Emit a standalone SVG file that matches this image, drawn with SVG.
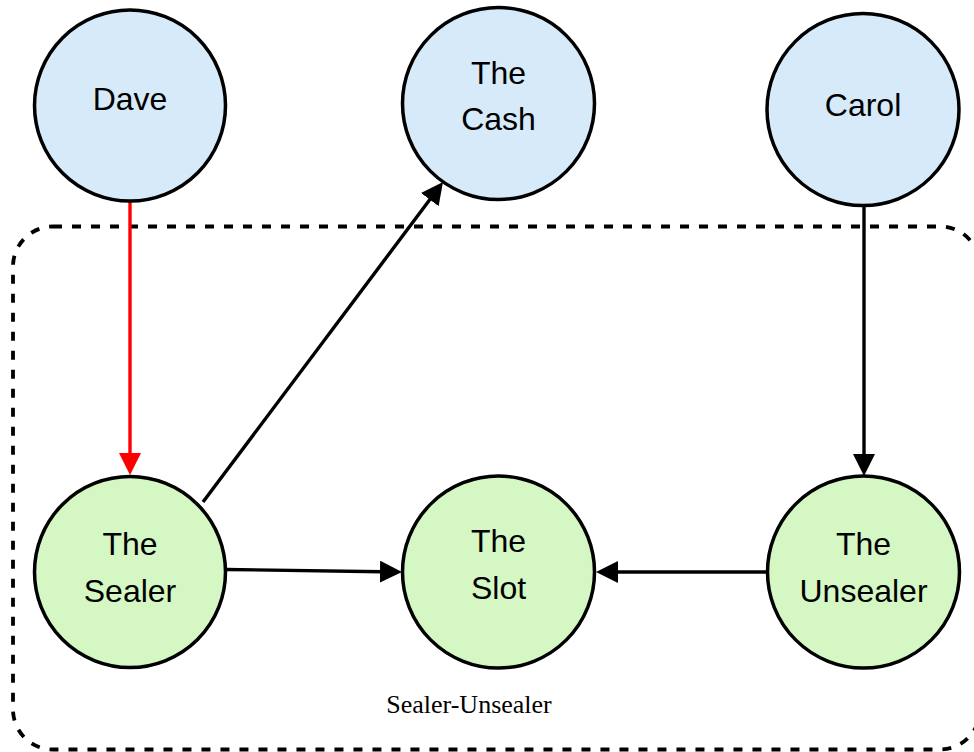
<svg xmlns="http://www.w3.org/2000/svg" width="974" height="752" viewBox="0 0 974 752">
<style>
.top{fill:#d6eaf9;stroke:#000;stroke-width:3.5}
.bot{fill:#d4f7c4;stroke:#000;stroke-width:3.5}
.lbl{font-family:"Liberation Sans",Arial,sans-serif;font-size:32px;fill:#000;text-anchor:middle}
.edge{fill:none;stroke:#000;stroke-width:3.4}
</style>
<defs>
<marker id="ah" markerUnits="userSpaceOnUse" markerWidth="22" markerHeight="22" refX="2" refY="11" orient="auto">
<path d="M0,0 L22,11 L0,22 Z" fill="#000"/>
</marker>
<marker id="ahr" markerUnits="userSpaceOnUse" markerWidth="22" markerHeight="22" refX="2" refY="11" orient="auto">
<path d="M0,0 L22,11 L0,22 Z" fill="#ff0000"/>
</marker>
</defs>
<rect id="group" x="13" y="226.5" width="967" height="523" rx="40" ry="40" fill="none" stroke="#000" stroke-width="3.8" stroke-dasharray="9,10"/>
<text x="469" y="713" font-family="'Liberation Serif','Times New Roman',serif" font-size="26" text-anchor="middle" fill="#000">Sealer-Unsealer</text>
<g id="connectors">
<line class="edge" x1="130" y1="201" x2="130" y2="455" style="stroke:#ff0000" marker-end="url(#ahr)"/>
<line class="edge" x1="864" y1="204" x2="864" y2="456" marker-end="url(#ah)"/>
<line class="edge" x1="203" y1="502" x2="431" y2="198" marker-end="url(#ah)"/>
<line class="edge" x1="226" y1="569.5" x2="382" y2="571.7" marker-end="url(#ah)"/>
<line class="edge" x1="768" y1="572" x2="616" y2="572" marker-end="url(#ah)"/>
</g>
<g id="dave"><circle class="top" cx="130" cy="105.5" r="95.5"/><text class="lbl" x="130" y="110">Dave</text></g>
<g id="cash"><circle class="top" cx="498.5" cy="103.5" r="96"/><text class="lbl" x="498.5" y="84">The</text><text class="lbl" x="498.5" y="130">Cash</text></g>
<g id="carol"><circle class="top" cx="863" cy="109.5" r="96"/><text class="lbl" x="863" y="116">Carol</text></g>
<g id="sealer"><circle class="bot" cx="130" cy="572" r="95.5"/><text class="lbl" x="130" y="555">The</text><text class="lbl" x="130" y="602">Sealer</text></g>
<g id="slot"><circle class="bot" cx="498.5" cy="572" r="96"/><text class="lbl" x="498.5" y="552">The</text><text class="lbl" x="498.5" y="599">Slot</text></g>
<g id="unsealer"><circle class="bot" cx="863.5" cy="572" r="96"/><text class="lbl" x="863.5" y="555">The</text><text class="lbl" x="863.5" y="602">Unsealer</text></g>
</svg>
